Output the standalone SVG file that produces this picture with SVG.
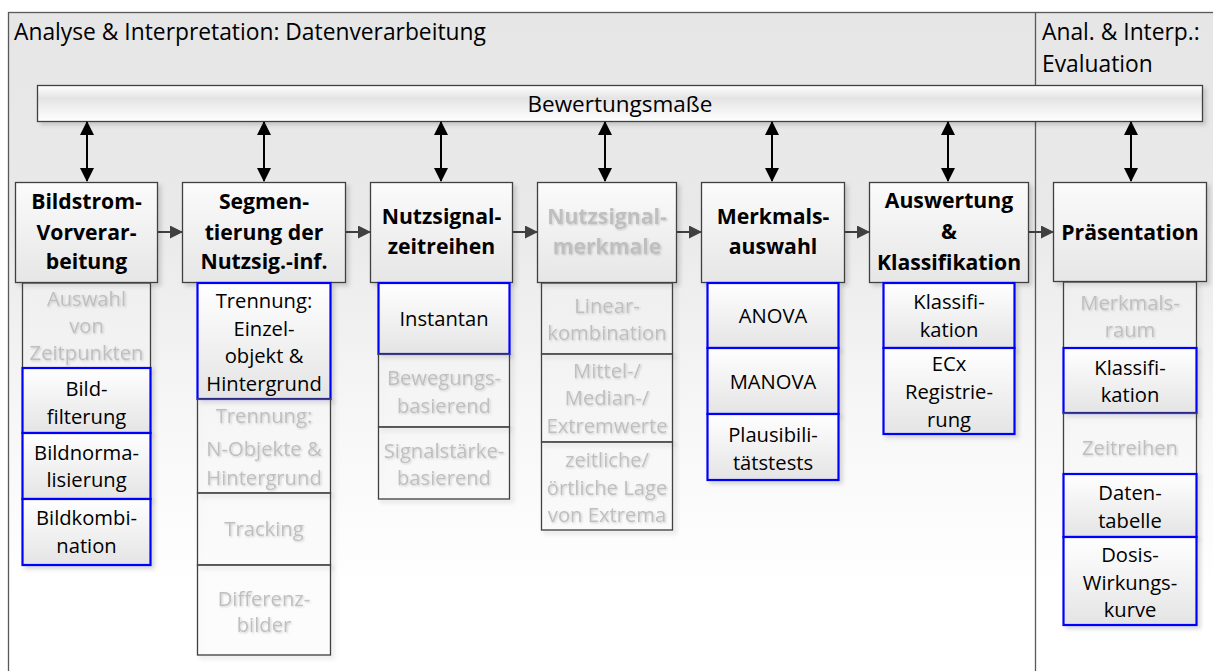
<svg xmlns="http://www.w3.org/2000/svg" width="1213" height="671" viewBox="0 0 1213 671">
<defs>
<linearGradient id="gBg" x1="0" y1="0" x2="0" y2="1">
<stop offset="0" stop-color="#e6e6e6"/>
<stop offset="0.3" stop-color="#e9e9e9"/>
<stop offset="0.6" stop-color="#f7f7f7"/>
<stop offset="0.85" stop-color="#ffffff"/>
</linearGradient>
<linearGradient id="gBar" x1="0" y1="0" x2="0" y2="1">
<stop offset="0" stop-color="#ffffff"/>
<stop offset="0.35" stop-color="#e4e4e4"/>
<stop offset="1" stop-color="#ffffff"/>
</linearGradient>
<linearGradient id="gNode" x1="0" y1="0" x2="0" y2="1">
<stop offset="0" stop-color="#fbfbfb"/>
<stop offset="1" stop-color="#e6e6e6"/>
</linearGradient>
<linearGradient id="gSub" x1="0" y1="0" x2="0" y2="1">
<stop offset="0" stop-color="#ffffff"/>
<stop offset="1" stop-color="#e4e4e4"/>
</linearGradient>
<filter id="shadow" x="-10%" y="-10%" width="130%" height="130%">
<feDropShadow dx="3" dy="3" stdDeviation="2" flood-color="#000" flood-opacity="0.15"/>
</filter>
<filter id="tshadow" x="-5%" y="-20%" width="115%" height="150%">
<feDropShadow dx="1" dy="1" stdDeviation="0.8" flood-color="#000" flood-opacity="0.18"/>
</filter>
<marker id="ahB" viewBox="0 0 14 14" refX="13" refY="7" markerWidth="14" markerHeight="14" markerUnits="userSpaceOnUse" orient="auto-start-reverse">
<path d="M0,0 L14,7 L0,14 Z" fill="#000"/>
</marker>
<marker id="ahG" viewBox="0 0 13 13" refX="12" refY="6.5" markerWidth="13" markerHeight="13" markerUnits="userSpaceOnUse" orient="auto">
<path d="M0,0 L13,6.5 L0,13 Z" fill="#404040"/>
</marker>
<style>
text{font-family:"Open Sans","Liberation Sans",sans-serif;fill:#000}
.hdr{font-size:22.8px}
.ttl{font-size:21.2px;font-weight:bold;text-anchor:middle}
.t{font-size:20.2px;text-anchor:middle}
.dim{fill:#bfbfbf;filter:url(#tshadow)}
.nb{fill:url(#gNode);stroke:#404040;stroke-width:1.3}
.sb{fill:url(#gSub);stroke:#0000ff;stroke-width:2.2}
.sg{fill:#ffffff;fill-opacity:0.25;stroke:#404040;stroke-width:1.3}
.sh{filter:url(#shadow)}
.dbl{stroke:#000;stroke-width:2;marker-start:url(#ahB);marker-end:url(#ahB)}
.hz{stroke:#404040;stroke-width:2;marker-end:url(#ahG)}
</style>
</defs>

<g id="panels">
<rect x="8.5" y="12.5" width="1210" height="680" fill="url(#gBg)" stroke="#595959" stroke-width="1.3"/>
<line x1="1035.5" y1="12.5" x2="1035.5" y2="671" stroke="#595959" stroke-width="1.3"/>
<text class="hdr" x="14" y="40">Analyse &amp; Interpretation: Datenverarbeitung</text>
<text class="hdr" x="1042" y="40">Anal. &amp; Interp.:</text>
<text class="hdr" x="1042" y="72">Evaluation</text>
</g>

<g id="bewertungsmasse">
<rect class="sh" x="37.5" y="85.5" width="1165" height="36" fill="url(#gBar)" stroke="#404040" stroke-width="1.3"/>
<text x="620" y="112" style="font-size:22.5px;text-anchor:middle">Bewertungsmaße</text>
</g>

<g id="connectors">
<line class="dbl" x1="87" y1="122" x2="87" y2="181"/>
<line class="dbl" x1="264" y1="122" x2="264" y2="181"/>
<line class="dbl" x1="441" y1="122" x2="441" y2="181"/>
<line class="dbl" x1="605" y1="122" x2="605" y2="181"/>
<line class="dbl" x1="772" y1="122" x2="772" y2="181"/>
<line class="dbl" x1="948" y1="122" x2="948" y2="181"/>
<line class="dbl" x1="1131" y1="122" x2="1131" y2="181"/>
<line class="hz" x1="157" y1="232" x2="182" y2="232"/>
<line class="hz" x1="345" y1="232" x2="370" y2="232"/>
<line class="hz" x1="512" y1="232" x2="537" y2="232"/>
<line class="hz" x1="676" y1="232" x2="701" y2="232"/>
<line class="hz" x1="844" y1="232" x2="869" y2="232"/>
<line class="hz" x1="1028" y1="232" x2="1053" y2="232"/>
</g>

<g id="bildstrom">
<rect class="nb sh" x="15.5" y="182.5" width="142" height="100"/>
<text class="ttl" x="86.5" y="209">Bildstrom-</text>
<text class="ttl" x="86.5" y="240">Vorverar-</text>
<text class="ttl" x="86.5" y="269">beitung</text>
<rect class="sg sh" x="22.5" y="283" width="128" height="85"/>
<text class="t dim" x="86.5" y="306">Auswahl</text>
<text class="t dim" x="86.5" y="333">von</text>
<text class="t dim" x="86.5" y="360">Zeitpunkten</text>
<rect class="sb sh" x="22.5" y="368" width="128" height="65"/>
<text class="t" x="86.5" y="396">Bild-</text>
<text class="t" x="86.5" y="424">filterung</text>
<rect class="sb sh" x="22.5" y="433" width="128" height="66"/>
<text class="t" x="86.5" y="460">Bildnorma-</text>
<text class="t" x="86.5" y="487">lisierung</text>
<rect class="sb sh" x="22.5" y="499" width="128" height="66"/>
<text class="t" x="86.5" y="525">Bildkombi-</text>
<text class="t" x="86.5" y="553">nation</text>
</g>

<g id="segmentierung">
<rect class="nb sh" x="182.5" y="182.5" width="163" height="100"/>
<text class="ttl" x="264" y="209">Segmen-</text>
<text class="ttl" x="264" y="240">tierung der</text>
<text class="ttl" x="264" y="269">Nutzsig.-inf.</text>
<rect class="sb sh" x="197.5" y="283" width="133" height="116"/>
<text class="t" x="264" y="308">Trennung:</text>
<text class="t" x="264" y="336">Einzel-</text>
<text class="t" x="264" y="363">objekt &amp;</text>
<text class="t" x="264" y="391">Hintergrund</text>
<rect class="sg sh" x="197.5" y="399" width="133" height="94"/>
<text class="t dim" x="264" y="423">Trennung:</text>
<text class="t dim" x="264" y="456">N-Objekte &amp;</text>
<text class="t dim" x="264" y="485">Hintergrund</text>
<rect class="sg sh" x="197.5" y="493" width="133" height="72"/>
<text class="t dim" x="264" y="536">Tracking</text>
<rect class="sg sh" x="197.5" y="565" width="133" height="90"/>
<text class="t dim" x="264" y="606">Differenz-</text>
<text class="t dim" x="264" y="632">bilder</text>
</g>

<g id="nutzsignalzeitreihen">
<rect class="nb sh" x="370.5" y="182.5" width="142" height="100"/>
<text class="ttl" x="441.5" y="224">Nutzsignal-</text>
<text class="ttl" x="441.5" y="254">zeitreihen</text>
<rect class="sb sh" x="378.5" y="283" width="131" height="71"/>
<text class="t" x="444" y="326">Instantan</text>
<rect class="sg sh" x="378.5" y="354" width="131" height="73"/>
<text class="t dim" x="444" y="385">Bewegungs-</text>
<text class="t dim" x="444" y="413">basierend</text>
<rect class="sg sh" x="378.5" y="427" width="131" height="72"/>
<text class="t dim" x="444" y="458">Signalstärke-</text>
<text class="t dim" x="444" y="485">basierend</text>
</g>

<g id="nutzsignalmerkmale">
<rect class="nb sh" x="537.5" y="182.5" width="139" height="100"/>
<text class="ttl dim" x="607" y="224">Nutzsignal-</text>
<text class="ttl dim" x="607" y="254">merkmale</text>
<rect class="sg sh" x="541.5" y="283" width="131" height="71"/>
<text class="t dim" x="607" y="313">Linear-</text>
<text class="t dim" x="607" y="340">kombination</text>
<rect class="sg sh" x="541.5" y="354" width="131" height="88"/>
<text class="t dim" x="607" y="378">Mittel-/</text>
<text class="t dim" x="607" y="405">Median-/</text>
<text class="t dim" x="607" y="433">Extremwerte</text>
<rect class="sg sh" x="541.5" y="442" width="131" height="88"/>
<text class="t dim" x="607" y="467">zeitliche/</text>
<text class="t dim" x="607" y="495">örtliche Lage</text>
<text class="t dim" x="607" y="522">von Extrema</text>
</g>

<g id="merkmalsauswahl">
<rect class="nb sh" x="701.5" y="182.5" width="143" height="100"/>
<text class="ttl" x="773" y="224">Merkmals-</text>
<text class="ttl" x="773" y="254">auswahl</text>
<rect class="sb sh" x="707.5" y="283" width="131" height="65"/>
<text class="t" x="773" y="323">ANOVA</text>
<rect class="sb sh" x="707.5" y="348" width="131" height="66"/>
<text class="t" x="773" y="389">MANOVA</text>
<rect class="sb sh" x="707.5" y="414" width="131" height="66"/>
<text class="t" x="773" y="442">Plausibili-</text>
<text class="t" x="773" y="470">tätstests</text>
</g>

<g id="auswertung">
<rect class="nb sh" x="869.5" y="182.5" width="159" height="100"/>
<text class="ttl" x="949" y="208">Auswertung</text>
<text class="ttl" x="949" y="239">&amp;</text>
<text class="ttl" x="949" y="270">Klassifikation</text>
<rect class="sb sh" x="883.5" y="283" width="131" height="65"/>
<text class="t" x="949" y="309">Klassifi-</text>
<text class="t" x="949" y="337">kation</text>
<rect class="sb sh" x="883.5" y="348" width="131" height="86"/>
<text class="t" x="949" y="371">ECx</text>
<text class="t" x="949" y="399">Registrie-</text>
<text class="t" x="949" y="427">rung</text>
</g>

<g id="praesentation">
<rect class="nb sh" x="1053.5" y="182.5" width="153" height="99"/>
<text class="ttl" x="1130" y="240">Präsentation</text>
<rect class="sg sh" x="1063.5" y="282" width="133" height="66"/>
<text class="t dim" x="1130" y="310">Merkmals-</text>
<text class="t dim" x="1130" y="337">raum</text>
<rect class="sb sh" x="1063.5" y="348" width="133" height="65"/>
<text class="t" x="1130" y="375">Klassifi-</text>
<text class="t" x="1130" y="402">kation</text>
<rect class="sg sh" x="1063.5" y="413" width="133" height="61"/>
<text class="t dim" x="1130" y="455">Zeitreihen</text>
<rect class="sb sh" x="1063.5" y="474" width="133" height="63"/>
<text class="t" x="1130" y="500">Daten-</text>
<text class="t" x="1130" y="528">tabelle</text>
<rect class="sb sh" x="1063.5" y="537" width="133" height="88"/>
<text class="t" x="1130" y="562">Dosis-</text>
<text class="t" x="1130" y="590">Wirkungs-</text>
<text class="t" x="1130" y="617">kurve</text>
</g>
</svg>
